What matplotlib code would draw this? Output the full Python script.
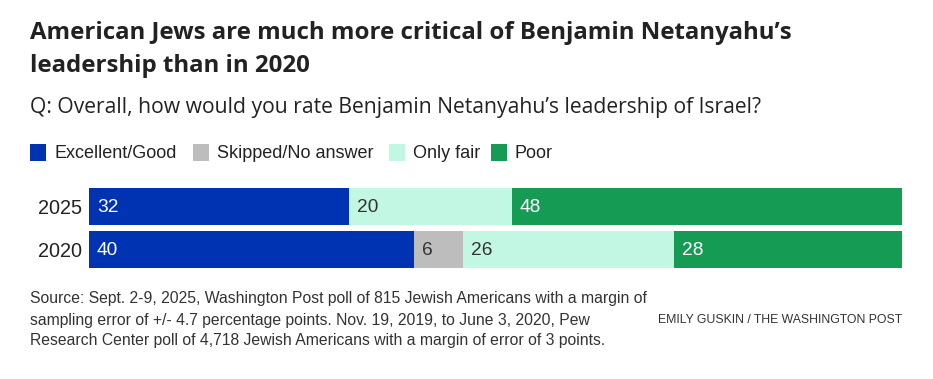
import matplotlib.pyplot as plt
from matplotlib.patches import Rectangle

# values (percent)
years = ['2025', '2020']
categories = ['Excellent/Good', 'Skipped/No answer', 'Only fair', 'Poor']
excellent_good = [32, 40]
skipped = [0, 6]
only_fair = [20, 26]
poor = [48, 28]

colors = ['#0033b2', '#bdbdbd', '#c2f8e3', '#169b55']
label_colors = ['white', '#333333', '#333333', 'white']

W, H = 933, 379
fig = plt.figure(figsize=(W / 100, H / 100), dpi=100)
plt.rcParams['font.family'] = ['Liberation Sans', 'DejaVu Sans']


def px(x, y):
    return x / W, 1 - y / H


# title and subtitle
fig.text(*px(30, 39), 'American Jews are much more critical of Benjamin Netanyahu\u2019s',
         fontsize=17.3, fontweight='bold', family='Open Sans', color='#222222', va='baseline')
fig.text(*px(30, 72), 'leadership than in 2020',
         fontsize=17.3, fontweight='bold', family='Open Sans', color='#222222', va='baseline')
fig.text(*px(30, 113), 'Q: Overall, how would you rate Benjamin Netanyahu\u2019s leadership of Israel?',
         fontsize=15.2, family='Open Sans', color='#222222', va='baseline')

# legend
legend_x = [30, 193, 389, 491]
for lx, cat, col in zip(legend_x, categories, colors):
    fig.patches.append(Rectangle(px(lx, 161), 16 / W, 17 / H, transform=fig.transFigure,
                                 facecolor=col, edgecolor='none'))
    fig.text(*px(lx + 24, 153), cat, fontsize=13, color='#222222', va='center')

# bars
ax = fig.add_axes([89 / W, 1 - 268 / H, (902 - 89) / W, 80 / H])
series = [excellent_good, skipped, only_fair, poor]
ypos = list(range(len(years)))
left = [0] * len(years)
for vals, col, tcol in zip(series, colors, label_colors):
    ax.barh(ypos, vals, left=left, height=0.86, color=col, linewidth=0)
    for i, v in enumerate(vals):
        if v > 0:
            ax.text(left[i] + 0.95, ypos[i] + 0.02, str(v), color=tcol, fontsize=13.8,
                    va='center', ha='left')
    left = [l + v for l, v in zip(left, vals)]

ax.set_xlim(0, 100)
ax.set_ylim(1.43, -0.43)
ax.set_yticks(ypos)
ax.set_yticklabels(years, fontsize=14.3, color='#222222')
ax.tick_params(axis='y', length=0, pad=5)
ax.set_xticks([])
for s in ax.spines.values():
    s.set_visible(False)

# footnote and credit
notes = ['Source: Sept. 2-9, 2025, Washington Post poll of 815 Jewish Americans with a margin of',
         'sampling error of +/- 4.7 percentage points. Nov. 19, 2019, to June 3, 2020, Pew',
         'Research Center poll of 4,718 Jewish Americans with a margin of error of 3 points.']
for k, line in enumerate(notes):
    fig.text(*px(30, 299 + 21 * k), line, fontsize=11.35, color='#333333', va='center')
fig.text(*px(902, 320), 'EMILY GUSKIN / THE WASHINGTON POST', fontsize=8.8, color='#333333',
         va='center', ha='right')

plt.savefig('out.png', dpi=100)
